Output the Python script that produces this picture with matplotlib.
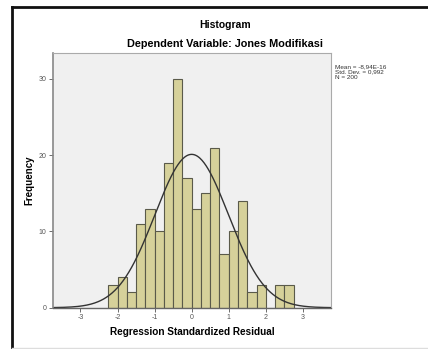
import numpy as np
import matplotlib
matplotlib.use("Agg")
import matplotlib.pyplot as plt
from matplotlib.lines import Line2D

# Data
bin_edges_start = -2.25
bin_width = 0.25
counts = [3, 4, 2, 11, 13, 10, 19, 30, 17, 13, 15, 21, 7, 10, 14, 2, 3, 0, 3, 3]
mean_val = -8.94e-16
std_val = 0.992
n_val = 200
x_ticks = [-3, -2, -1, 0, 1, 2, 3]
y_ticks = [0, 10, 20, 30]
stats_lines = ["Mean = -8,94E-16", "Std. Dev. = 0,992", "N = 200"]

plt.rcParams['font.family'] = ['Liberation Sans', 'DejaVu Sans']

fig = plt.figure(figsize=(4.28, 3.49), dpi=100)
W, H = 428, 349

ax = fig.add_axes([52.7 / W, 1 - 307.7 / H, (331 - 52.7) / W, (307.7 - 53) / H])
ax.set_facecolor('#F0F0F0')

edges = bin_edges_start + bin_width * np.arange(len(counts) + 1)
ax.bar(edges[:-1], counts, width=bin_width, align='edge',
       color='#D6D19A', edgecolor='#5a5a4a', linewidth=0.8)

xs = np.linspace(-3.75, 3.76, 400)
pdf = n_val * bin_width / (std_val * np.sqrt(2 * np.pi)) * np.exp(-0.5 * ((xs - mean_val) / std_val) ** 2)
ax.plot(xs, pdf, color='#333333', linewidth=1.0)

ax.set_xlim(-3.75, 3.76)
ax.set_ylim(0, 33.4)
ax.set_xticks(x_ticks)
ax.set_yticks(y_ticks)
ax.set_xticklabels([str(t) for t in x_ticks])
ax.set_yticklabels([str(t) for t in y_ticks])
ax.tick_params(axis='both', labelsize=5, colors='#555555', length=3, width=0.6, pad=1.5)
for s in ['top', 'right']:
    ax.spines[s].set_color('#aaaaaa')
    ax.spines[s].set_linewidth(0.8)
ax.spines['left'].set_color('#888888')
ax.spines['left'].set_linewidth(1.2)
ax.spines['bottom'].set_color('#666666')
ax.spines['bottom'].set_linewidth(1.0)

ax.set_xlabel('Regression Standardized Residual', fontsize=7.2, fontweight='bold', labelpad=4.5)
ax.set_ylabel('Frequency', fontsize=7, fontweight='bold', labelpad=3)

fig.text(225 / W, 1 - 25 / H, 'Histogram', ha='center', va='center',
         fontsize=7.5, fontweight='bold')
fig.text(225 / W, 1 - 44 / H, 'Dependent Variable: Jones Modifikasi', ha='center', va='center',
         fontsize=7.8, fontweight='bold')

fig.text(335 / W, 1 - 64 / H, "\n".join(stats_lines),
         ha='left', va='top', fontsize=4.6, color='#333333', linespacing=1.1)

# outer frame
fig.add_artist(Line2D([11.5 / W, 11.5 / W], [0, 1 - 6.5 / H], color='#111111', lw=2.0, transform=fig.transFigure))
fig.add_artist(Line2D([11.5 / W, 1], [1 - 6.5 / H, 1 - 6.5 / H], color='#111111', lw=2.0, transform=fig.transFigure))
fig.add_artist(Line2D([11.5 / W, 1], [1 - 347.5 / H, 1 - 347.5 / H], color='#dddddd', lw=1.0, transform=fig.transFigure))

fig.savefig('out.png', dpi=100)
